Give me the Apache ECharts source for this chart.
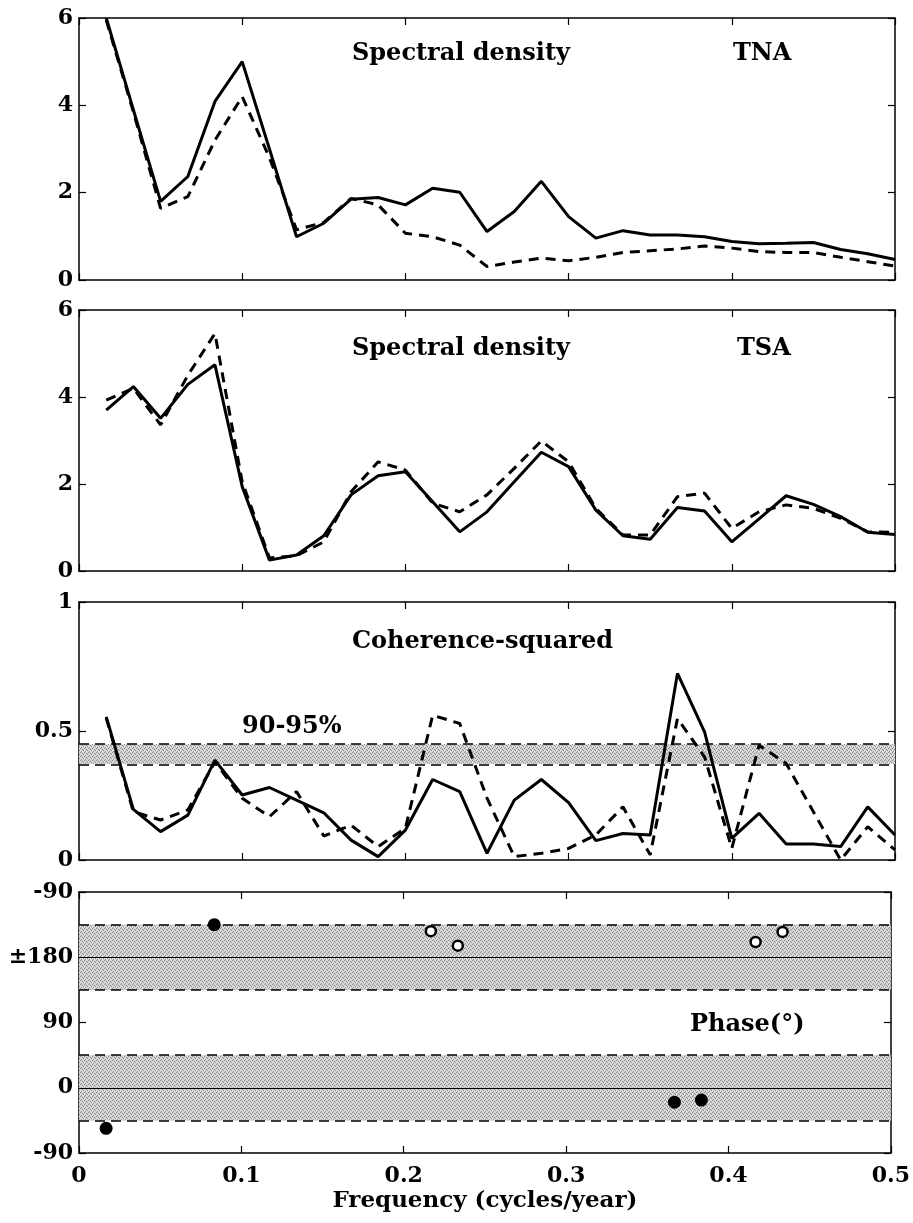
<!DOCTYPE html>
<html>
<head>
<meta charset="utf-8">
<script src="https://cdn.jsdelivr.net/npm/echarts@6/dist/echarts.min.js"></script>
<style>
html,body{margin:0;padding:0;background:#fff;}
#chart{width:913px;height:1223px;}
</style>
</head>
<body>
<div id="chart"></div>
<script>
// Frequencies (cycles/year)
const freq = [0.0167,0.0333,0.05,0.0667,0.0833,0.1,0.1167,0.1333,0.15,0.1667,0.1833,0.2,0.2167,0.2333,0.25,
              0.2667,0.2833,0.3,0.3167,0.3333,0.35,0.3667,0.3833,0.4,0.4167,0.4333,0.45,0.4667,0.4833,0.5];
// Spectral density TNA
const tnaSolid  = [6.0,3.9,1.8,2.37,4.09,5.0,3.0,0.99,1.30,1.85,1.89,1.72,2.10,2.01,1.11,
                   1.57,2.26,1.45,0.96,1.13,1.03,1.03,0.99,0.88,0.83,0.84,0.86,0.70,0.60,0.47];
const tnaDashed = [5.95,3.85,1.64,1.91,3.2,4.2,2.8,1.15,1.32,1.87,1.72,1.07,0.99,0.80,0.31,
                   0.41,0.50,0.44,0.52,0.63,0.67,0.71,0.78,0.73,0.65,0.63,0.63,0.52,0.42,0.32];
// Spectral density TSA
const tsaSolid  = [3.70,4.24,3.51,4.29,4.74,1.94,0.25,0.37,0.81,1.75,2.19,2.28,1.59,0.90,1.36,
                   2.05,2.73,2.40,1.40,0.81,0.73,1.46,1.38,0.67,1.20,1.73,1.53,1.25,0.89,0.84];
const tsaDashed = [3.93,4.20,3.36,4.50,5.46,2.05,0.30,0.35,0.67,1.82,2.51,2.32,1.56,1.36,1.75,
                   2.36,2.99,2.51,1.44,0.83,0.83,1.71,1.79,0.98,1.36,1.52,1.44,1.21,0.90,0.89];
// Coherence-squared
const cohSolid  = [0.555,0.196,0.110,0.174,0.387,0.252,0.281,0.232,0.183,0.077,0.013,0.116,0.312,0.265,0.026,
                   0.232,0.312,0.222,0.075,0.103,0.097,0.723,0.497,0.084,0.181,0.062,0.062,0.052,0.206,0.097];
const cohDashed = [0.55,0.187,0.155,0.194,0.38,0.239,0.168,0.265,0.093,0.135,0.052,0.123,0.561,0.529,0.24,
                   0.013,0.026,0.045,0.097,0.206,0.02,0.548,0.40,0.045,0.445,0.374,0.187,0.0,0.129,0.039];
const cohBand = [0.372, 0.449];   // 90-95% significance levels
// Phase (degrees)
const phaseFilledFreq = [0.0167,0.0833,0.3667,0.3833];
const phaseFilled     = [-56,-135,-20,-17];
const phaseOpenFreq   = [0.2167,0.2333,0.4167,0.4333];
const phaseOpen       = [-144,-164,-159,-145];
const phaseBands = [[-45,45],[135,225]];
const phaseLines = [0,180];
const phaseTickLabels = {'-90':'-90','0':'0','90':'90','180':'\u00b1180','270':'-90'};

const FONT = '"DejaVu Serif", "Liberation Serif", serif';
const pairs = (xs, ys) => xs.map((x,i)=>[x, ys[i]]);
const wrapPhase = v => (v < -90 ? v + 360 : v);

// stipple pattern
const pc = document.createElement('canvas');
pc.width = 4; pc.height = 4;
const pctx = pc.getContext('2d');
pctx.fillStyle = '#d2d2d2'; pctx.fillRect(0,0,4,4);
pctx.fillStyle = '#8e8e8e';
pctx.fillRect(0,0,1,1); pctx.fillRect(2,1,1,1); pctx.fillRect(1,3,1,1); pctx.fillRect(3,2,1,1);
pctx.fillStyle = '#eeeeee';
pctx.fillRect(2,3,1,1); pctx.fillRect(0,2,1,1);
const stipple = {image: pc, repeat: 'repeat'};

const grids = [
  {left:79, right:18, top:18,  height:262},
  {left:79, right:18, top:310, height:261},
  {left:79, right:18, top:602, height:258},
  {left:79, right:18, top:892, height:261}
];
const axisLine = {show:true, onZero:false, lineStyle:{color:'#000', width:1.5}};
const tick = {show:true, inside:true, length:7, lineStyle:{color:'#000', width:1.2}};

const xAxis = [], yAxis = [];
grids.forEach((g, i) => {
  const last = i === 3;
  xAxis.push({type:'value', gridIndex:i, min:0, max:0.5, interval:0.1, position:'bottom',
    axisLine, axisTick:tick, splitLine:{show:false},
    axisLabel:{show:last, color:'#000', fontFamily:FONT, fontWeight:'bold', fontSize:22, margin:12,
      formatter: v => (v === 0 ? '0' : String(+v.toFixed(1)))},
    name: last ? 'Frequency (cycles/year)' : '', nameLocation:'middle', nameGap:37,
    nameTextStyle:{color:'#000', fontFamily:FONT, fontWeight:'bold', fontSize:23}});
  xAxis.push({type:'value', gridIndex:i, min:0, max:0.5, interval:0.1, position:'top',
    axisLine, axisTick:tick, axisLabel:{show:false}, splitLine:{show:false}});
});
const yCfg = [
  {min:0, max:6, interval:2, fmt: v => String(v)},
  {min:0, max:6, interval:2, fmt: v => String(v)},
  {min:0, max:1, interval:0.5, fmt: v => String(v)},
  {min:-90, max:270, interval:90, fmt: v => phaseTickLabels[String(v)]}
];
yCfg.forEach((c, i) => {
  yAxis.push({type:'value', gridIndex:i, min:c.min, max:c.max, interval:c.interval, position:'left',
    axisLine, axisTick:tick, splitLine:{show:false},
    axisLabel:{color:'#000', fontFamily:FONT, fontWeight:'bold', fontSize:22, margin:6, formatter:c.fmt}});
  yAxis.push({type:'value', gridIndex:i, min:c.min, max:c.max, interval:c.interval, position:'right',
    axisLine, axisTick:tick, axisLabel:{show:false}, splitLine:{show:false}});
});

const solid = {color:'#000', width:3};
const dashed = {color:'#000', width:3, type:[10,7]};
const lineSeries = (gi, data, style, extra) => Object.assign({
  type:'line', xAxisIndex:gi*2, yAxisIndex:gi*2, data:pairs(freq, data),
  symbol:'none', lineStyle:style, silent:true, animation:false, z:5
}, extra || {});

const bandMark = (bands, lines, dashLines) => ({
  markArea:{silent:true, itemStyle:{color:stipple}, data: bands.map(b => [{yAxis:b[0]},{yAxis:b[1]}])},
  markLine:{silent:true, symbol:'none', label:{show:false}, animation:false,
    data: dashLines.map(v => ({yAxis:v, lineStyle:{color:'#000', width:1.5, type:[10,6]}}))
          .concat(lines.map(v => ({yAxis:v, lineStyle:{color:'#000', width:1.2, type:'solid'}})))}
});

const series = [
  lineSeries(0, tnaSolid, solid),
  lineSeries(0, tnaDashed, dashed),
  lineSeries(1, tsaSolid, solid),
  lineSeries(1, tsaDashed, dashed),
  lineSeries(2, cohSolid, solid, bandMark([cohBand], [], cohBand)),
  lineSeries(2, cohDashed, dashed),
  Object.assign({type:'scatter', xAxisIndex:6, yAxisIndex:6, silent:true, animation:false, z:6,
    data: pairs(phaseFilledFreq, phaseFilled.map(wrapPhase)), symbol:'circle', symbolSize:13,
    itemStyle:{color:'#000', opacity:1}},
    bandMark(phaseBands, phaseLines, phaseBands.flat())),
  {type:'scatter', xAxisIndex:6, yAxisIndex:6, silent:true, animation:false, z:6,
    data: pairs(phaseOpenFreq, phaseOpen.map(wrapPhase)), symbol:'circle', symbolSize:10,
    itemStyle:{color:'#fff', borderColor:'#000', borderWidth:2.5, opacity:1}}
];

const txt = (text, x, y) => ({type:'text', x, y, silent:true, z:20,
  style:{text, fill:'#000', font:'bold 24px ' + FONT, textAlign:'left', textVerticalAlign:'middle'}});

const chart = echarts.init(document.getElementById('chart'), null, {renderer:'canvas'});
chart.setOption({
  animation:false,
  backgroundColor:'#fff',
  grid: grids,
  xAxis, yAxis, series,
  graphic:[
    txt('Spectral density', 352, 54),
    txt('TNA', 733, 54),
    txt('Spectral density', 352, 349),
    txt('TSA', 737, 349),
    txt('Coherence-squared', 352, 642),
    txt('90-95%', 242, 727),
    txt('Phase(\u00b0)', 690, 1025)
  ]
});
</script>
</body>
</html>
